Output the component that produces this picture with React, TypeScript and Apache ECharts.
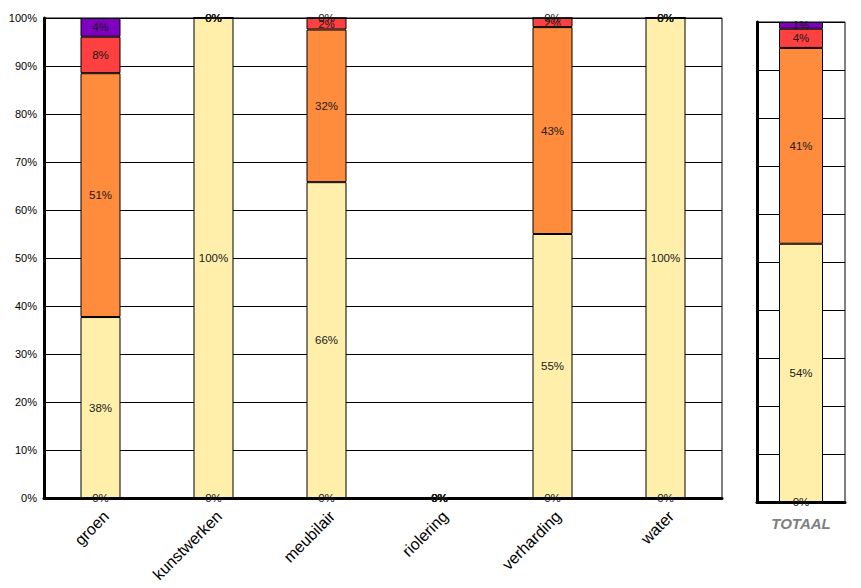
import React, { useEffect, useRef } from "react";
import * as echarts from "echarts";

const categories = ["groen", "kunstwerken", "meubilair", "riolering", "verharding", "water"];
const totalCategory = ["TOTAAL"];
const yTicks = [0, 10, 20, 30, 40, 50, 60, 70, 80, 90, 100];

// layers, bottom to top
const baseZero = [0, 0, 0, 0, 0, 0];
const yellowVals = [37.7, 100, 65.8, 0, 55, 100];
const orangeVals = [50.8, 0, 31.8, 0, 43.1, 0];
const redVals = [7.6, 0, 2.4, 0, 1.9, 0];
const purpleVals = [3.9, 0, 0, 0, 0, 0];

const totalBase = [0];
const totalYellow = [53.8];
const totalOrange = [40.8];
const totalRed = [4.0];
const totalPurple = [1.4];

const layerNames = ["basis", "geel", "oranje", "rood", "paars"];
const layerColors = ["#FFEFAA", "#FFEFAA", "#FF8C3C", "#FF4040", "#7F00BF"];

export default function App() {
  const ref = useRef<HTMLDivElement>(null);
  useEffect(() => {
    if (!ref.current) return;
    const chart = echarts.init(ref.current, null, { renderer: "svg" });
    const mainData = [baseZero, yellowVals, orangeVals, redVals, purpleVals];
    const totData = [totalBase, totalYellow, totalOrange, totalRed, totalPurple];
    const label = {
      show: true,
      position: "inside",
      formatter: (p: any) => Math.round(p.value) + "%",
      fontSize: 11.5,
      fontFamily: "Arial, 'Liberation Sans', sans-serif",
      color: "#1a1a1a",
    };
    const series: any[] = [];
    layerNames.forEach((n, i) => {
      series.push({
        name: n,
        type: "bar",
        stack: "main",
        xAxisIndex: 0,
        yAxisIndex: 0,
        barWidth: 40,
        data: mainData[i],
        itemStyle: { color: layerColors[i], borderColor: "#000", borderWidth: 1 },
        label,
      });
      series.push({
        name: n + "-tot",
        type: "bar",
        stack: "tot",
        xAxisIndex: 1,
        yAxisIndex: 1,
        barWidth: 44,
        data: totData[i],
        itemStyle: { color: layerColors[i], borderColor: "#000", borderWidth: 1 },
        label,
      });
    });
    const yAxisCommon = {
      type: "value",
      min: yTicks[0],
      max: yTicks[yTicks.length - 1],
      interval: 10,
      splitLine: { show: true, lineStyle: { color: "#000", width: 1 } },
      axisLine: { show: true, lineStyle: { color: "#000", width: 3 } },
      axisTick: { show: false },
    };
    chart.setOption({
      animation: false,
      grid: [
        {
          left: 36, top: 10, width: 678, height: 480,
          show: true, borderColor: "#000", borderWidth: 1, backgroundColor: "transparent",
          containLabel: false, outerBoundsMode: "none",
        },
        {
          left: 749, top: 14, width: 88, height: 480,
          show: true, borderColor: "#000", borderWidth: 1, backgroundColor: "transparent",
          containLabel: false, outerBoundsMode: "none",
        },
      ],
      xAxis: [
        {
          type: "category",
          gridIndex: 0,
          data: categories,
          axisLine: { show: true, lineStyle: { color: "#000", width: 3 } },
          axisTick: { show: false },
          axisLabel: {
            rotate: 45,
            fontSize: 16,
            fontFamily: "Arial, 'Liberation Sans', sans-serif",
            color: "#000",
            verticalAlign: "top",
            margin: 10,
          },
        },
        {
          type: "category",
          gridIndex: 1,
          data: totalCategory,
          axisLine: { show: true, lineStyle: { color: "#000", width: 3 } },
          axisTick: { show: false },
          axisLabel: {
            fontSize: 15,
            fontWeight: "bold",
            fontStyle: "italic",
            fontFamily: "Arial, 'Liberation Sans', sans-serif",
            color: "#808080",
            margin: 14,
          },
        },
      ],
      yAxis: [
        {
          ...yAxisCommon,
          gridIndex: 0,
          axisLabel: {
            formatter: "{value}%",
            fontSize: 11,
            fontFamily: "Arial, 'Liberation Sans', sans-serif",
            color: "#000",
            margin: 7,
          },
        },
        {
          ...yAxisCommon,
          gridIndex: 1,
          axisLabel: { show: false },
        },
      ],
      series,
    });
    return () => chart.dispose();
  }, []);
  return <div ref={ref} style={{ width: 845, height: 580 }} />;
}
